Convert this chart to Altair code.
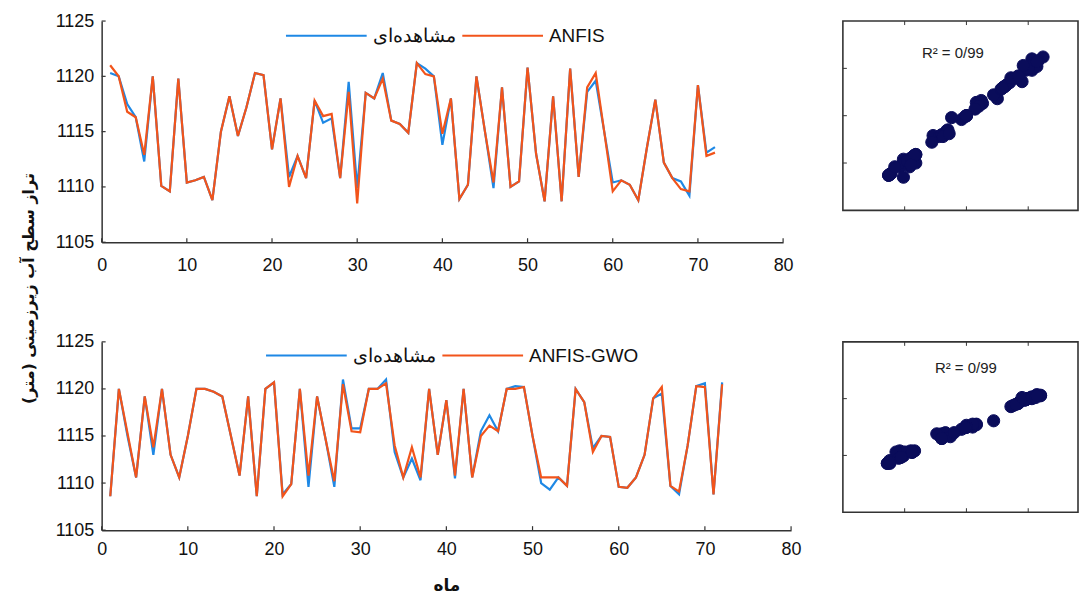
import altair as alt
import pandas as pd

# ---------------- data ----------------
months = list(range(1, 73))

obs_top = [1120.3, 1120.0, 1117.5, 1116.3, 1112.3, 1120.0, 1110.1, 1109.6, 1119.8, 1110.4,
           1110.6, 1110.9, 1108.8, 1115.0, 1118.2, 1114.6, 1117.2, 1120.3, 1120.1, 1113.4,
           1118.0, 1110.9, 1112.8, 1110.8, 1117.8, 1115.8, 1116.2, 1110.8, 1119.5, 1109.9,
           1118.5, 1118.0, 1120.3, 1116.0, 1115.7, 1114.9, 1121.2, 1120.7, 1120.0, 1113.8,
           1118.0, 1108.9, 1110.2, 1120.0, 1115.0, 1109.9, 1119.0, 1110.0, 1110.5, 1120.8,
           1113.0, 1108.7, 1118.2, 1108.7, 1120.7, 1110.9, 1118.6, 1119.6, 1115.0, 1110.4,
           1110.6, 1110.2, 1108.8, 1113.5, 1117.9, 1112.2, 1110.8, 1110.5, 1109.2, 1119.2,
           1113.1, 1113.6]

anfis_top = [1121.0, 1120.0, 1116.8, 1116.3, 1112.9, 1120.0, 1110.1, 1109.6, 1119.8, 1110.4,
             1110.6, 1110.9, 1108.8, 1115.0, 1118.2, 1114.6, 1117.2, 1120.3, 1120.1, 1113.4,
             1118.0, 1110.0, 1112.8, 1110.8, 1117.8, 1116.4, 1116.6, 1110.8, 1118.6, 1108.5,
             1118.5, 1118.0, 1119.8, 1116.0, 1115.7, 1114.9, 1121.2, 1120.2, 1120.0, 1114.8,
             1118.0, 1108.9, 1110.2, 1120.0, 1115.0, 1110.4, 1119.0, 1110.0, 1110.5, 1120.8,
             1113.0, 1108.7, 1118.2, 1108.7, 1120.7, 1110.9, 1119.0, 1120.3, 1115.0, 1109.6,
             1110.6, 1110.2, 1108.8, 1113.5, 1117.9, 1112.2, 1110.8, 1109.8, 1109.6, 1119.2,
             1112.8, 1113.1]

obs_bot = [1108.6, 1120.0, 1115.0, 1110.6, 1119.2, 1113.0, 1120.0, 1113.0, 1110.6, 1115.0,
           1120.0, 1120.0, 1119.7, 1119.2, 1115.0, 1110.8, 1119.2, 1108.6, 1120.0, 1120.7,
           1108.8, 1109.9, 1120.0, 1109.6, 1119.2, 1114.6, 1109.6, 1121.0, 1115.8, 1115.8,
           1120.0, 1120.0, 1121.0, 1113.3, 1110.6, 1112.6, 1110.3, 1120.0, 1113.0, 1118.8,
           1110.5, 1120.0, 1110.6, 1115.5, 1117.2, 1115.5, 1120.0, 1120.3, 1120.2, 1115.0,
           1110.0, 1109.3, 1110.6, 1109.7, 1120.0, 1118.6, 1113.7, 1115.0, 1114.9, 1109.6,
           1109.5, 1110.6, 1113.0, 1119.0, 1119.5, 1109.7, 1108.8, 1114.0, 1120.3, 1120.6,
           1108.8, 1120.7]

gwo_bot = [1108.6, 1120.0, 1115.3, 1110.6, 1119.2, 1113.8, 1120.0, 1113.0, 1110.6, 1115.0,
           1120.0, 1120.0, 1119.7, 1119.2, 1115.0, 1110.8, 1119.2, 1108.6, 1120.0, 1120.7,
           1108.6, 1109.9, 1120.0, 1110.8, 1119.2, 1114.6, 1110.2, 1120.5, 1115.5, 1115.4,
           1120.0, 1120.0, 1120.6, 1114.0, 1110.6, 1113.8, 1110.6, 1120.0, 1113.0, 1118.8,
           1110.8, 1120.0, 1110.6, 1115.0, 1116.1, 1115.5, 1120.0, 1120.0, 1120.2, 1115.0,
           1110.6, 1110.6, 1110.6, 1109.7, 1120.0, 1118.6, 1113.3, 1115.0, 1114.9, 1109.6,
           1109.5, 1110.6, 1113.0, 1119.0, 1120.2, 1109.7, 1109.1, 1114.0, 1120.3, 1120.2,
           1108.8, 1120.5]

x_ticks = [0, 10, 20, 30, 40, 50, 60, 70, 80]
y_ticks = [1105, 1110, 1115, 1120, 1125]
scatter_x_ticks = [1110, 1115, 1120]
scatter_top_y_ticks = [1110, 1115, 1120]
scatter_bot_y_ticks = [1110, 1120]

label_obs = "مشاهده\u200cای"
model_top = "ANFIS"
model_bot = "ANFIS-GWO"
r2_text = "R² = 0/99"
y_title = "تراز سطح آب زیرزمینی (متر)"
x_title = "ماه"

# ---------------- style ----------------
BLUE = "#1e88e5"
ORANGE = "#f2541b"
AXIS = "#333333"
DOT = "#0a0c5a"
FONT = "Liberation Sans"
AFONT = "DejaVu Sans"


def line_panel(obs, pred, model, width, height, leg_x, leg_y, xlab_pad, ytitle=False, xtitle=False):
    df = pd.DataFrame({
        "month": months * 2,
        "value": obs + pred,
        "series": [label_obs] * len(obs) + [model] * len(pred),
    })
    xaxis_kw = dict(values=x_ticks, ticks=False, grid=False, labelPadding=xlab_pad,
                    labelFlush=False, format="d",
                    domainColor=AXIS, domainWidth=1.5, labelFontSize=18, labelFont=FONT,
                    labelColor="#111")
    if xtitle:
        xaxis_kw.update(title=x_title, titleFont=AFONT, titleFontSize=17, titleFontWeight="bold",
                        titlePadding=20, titleColor="#111")
    else:
        xaxis_kw.update(title=None)
    yaxis_kw = dict(values=y_ticks, ticks=False, grid=False, labelPadding=8,
                    labelFlush=False, format="d",
                    domainColor=AXIS, domainWidth=1.5, labelFontSize=18, labelFont=FONT,
                    labelColor="#111")
    if ytitle:
        yaxis_kw.update(title=y_title, titleFont=AFONT, titleFontSize=16, titleFontWeight="bold",
                        titleX=-73, titleY=268, titleAngle=270, titleAlign="center",
                        titleBaseline="middle", titleColor="#111")
    else:
        yaxis_kw.update(title=None)
    xaxis = alt.Axis(**xaxis_kw)
    yaxis = alt.Axis(**yaxis_kw)
    xscale = alt.Scale(domain=[0, 80], nice=False, zero=False)
    yscale = alt.Scale(domain=[1105, 1125], nice=False, zero=False)

    color = alt.Color(
        "series:N",
        sort=[label_obs, model],
        scale=alt.Scale(domain=[label_obs, model], range=[BLUE, ORANGE]),
        legend=alt.Legend(orient="none", legendX=leg_x, legendY=leg_y, direction="horizontal",
                          title=None, symbolType="stroke", symbolSize=6561,
                          symbolStrokeWidth=2, labelFontSize=19, labelFont=FONT,
                          labelColor="#111", columnPadding=3, labelOffset=5, padding=0),
    )
    base = alt.Chart(df).encode(
        x=alt.X("month:Q", scale=xscale, axis=xaxis),
        y=alt.Y("value:Q", scale=yscale, axis=yaxis),
        color=color,
    )
    l_obs = base.transform_filter(alt.datum.series == label_obs).mark_line(strokeWidth=2.2)
    l_pred = base.transform_filter(alt.datum.series == model).mark_line(strokeWidth=2.2)

    xt = alt.Chart(pd.DataFrame({"month": x_ticks})).mark_rule(color=AXIS, strokeWidth=1.2).encode(
        x=alt.X("month:Q", scale=xscale, axis=xaxis), y=alt.value(height), y2=alt.value(height - 4))
    yt = alt.Chart(pd.DataFrame({"value": y_ticks})).mark_rule(color=AXIS, strokeWidth=1.2).encode(
        y=alt.Y("value:Q", scale=yscale, axis=yaxis), x=alt.value(0), x2=alt.value(4))
    return alt.layer(l_obs, l_pred, xt, yt).properties(width=width, height=height)


def scatter_panel(obs, pred, ydom, yticks, width, height, tx, ty):
    xs = alt.Scale(domain=[1105, 1124.03], nice=False, zero=False)
    ys = alt.Scale(domain=ydom, nice=False, zero=False)
    sdf = pd.DataFrame({"obs": obs, "pred": pred})
    pts = alt.Chart(sdf).mark_circle(size=150, color=DOT, opacity=1,
                                      stroke=DOT, strokeWidth=1).encode(
        x=alt.X("obs:Q", scale=xs, axis=None),
        y=alt.Y("pred:Q", scale=ys, axis=None),
    )
    tdf = pd.DataFrame({"t": scatter_x_ticks})
    top_t = alt.Chart(tdf).mark_rule(color=AXIS, strokeWidth=1).encode(
        x=alt.X("t:Q", scale=xs, axis=None), y=alt.value(0), y2=alt.value(4))
    bot_t = alt.Chart(tdf).mark_rule(color=AXIS, strokeWidth=1).encode(
        x=alt.X("t:Q", scale=xs, axis=None), y=alt.value(height), y2=alt.value(height - 4))
    left_t = alt.Chart(pd.DataFrame({"t": yticks})).mark_rule(color=AXIS, strokeWidth=1).encode(
        y=alt.Y("t:Q", scale=ys, axis=None), x=alt.value(0), x2=alt.value(4))
    txt = alt.Chart(pd.DataFrame({"x": [tx], "y": [ty], "t": [r2_text]})).mark_text(
        font=FONT, fontSize=15, color="#222").encode(
        x=alt.X("x:Q", scale=xs, axis=None), y=alt.Y("y:Q", scale=ys, axis=None), text="t:N")
    return alt.layer(pts, top_t, bot_t, left_t, txt).properties(
        width=width, height=height,
        view=alt.ViewBackground(stroke=AXIS, strokeWidth=1.6))


top_line = line_panel(obs_top, anfis_top, model_top, 684, 222, 184, -27, 14, ytitle=True)
bot_line = line_panel(obs_bot, gwo_bot, model_bot, 692, 189, 164, -28, 10, xtitle=True)
top_sc = scatter_panel(obs_top, anfis_top, [1105, 1125], scatter_top_y_ticks, 236, 190,
                       1113.9, 1121.6)
bot_sc = scatter_panel(obs_bot, gwo_bot, [1100, 1130], scatter_bot_y_ticks, 236, 171,
                       1114.95, 1125.4)

chart = alt.concat(
    top_line, top_sc, bot_line, bot_sc,
    columns=2,
    spacing=alt.RowColnumber(row=100, column=52),
    bounds="flush",
).resolve_scale(color="independent").properties(
    padding={"left": 13, "top": -15, "right": 0, "bottom": 0},
    background="white",
).configure_view(stroke=None)

chart.save("out.html", embed_options={"renderer": "svg", "actions": False})
